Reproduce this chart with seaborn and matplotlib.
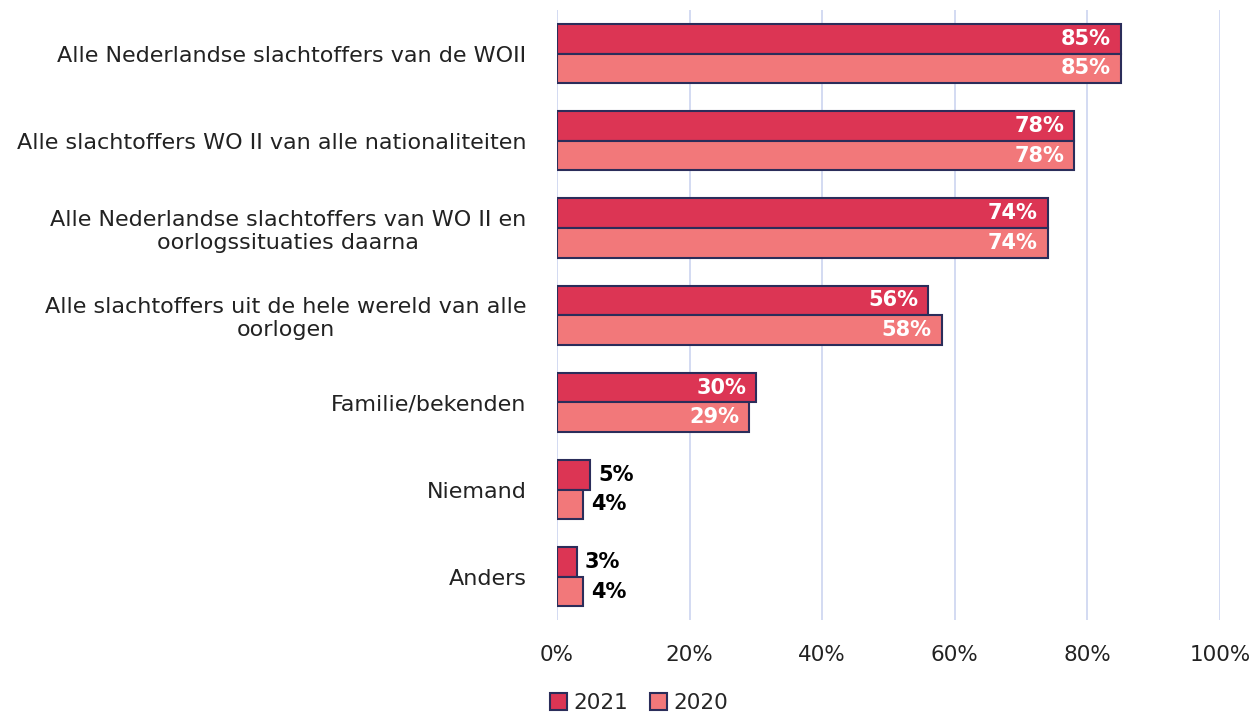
import matplotlib
matplotlib.use("Agg")
import matplotlib.pyplot as plt
import seaborn as sns
import pandas as pd
from matplotlib.ticker import FuncFormatter

categories = [
    "Alle Nederlandse slachtoffers van de WOII",
    "Alle slachtoffers WO II van alle nationaliteiten",
    "Alle Nederlandse slachtoffers van WO II en\noorlogssituaties daarna",
    "Alle slachtoffers uit de hele wereld van alle\noorlogen",
    "Familie/bekenden",
    "Niemand",
    "Anders",
]
values_2021 = [85, 78, 74, 56, 30, 5, 3]
values_2020 = [85, 78, 74, 58, 29, 4, 4]
years = ["2021", "2020"]

df = pd.DataFrame({
    "categorie": categories * 2,
    "jaar": [years[0]] * len(categories) + [years[1]] * len(categories),
    "waarde": values_2021 + values_2020,
})

sns.set_style("white")
plt.rcParams["font.family"] = ["DejaVu Sans"]

palette = {"2021": "#DC3554", "2020": "#F2787A"}
edge = "#2B2D5A"

fig = plt.figure(figsize=(12.53, 7.13), dpi=100)
ax = fig.add_axes([0.4445, 0.130, 0.5292, 0.856])

sns.barplot(data=df, y="categorie", x="waarde", hue="jaar", hue_order=years,
            palette=palette, orient="h", width=0.68, edgecolor=edge,
            linewidth=1.5, saturation=1, ax=ax, legend=True)

ax.set_xlim(0, 100)
ax.set_xticks(range(0, 101, 20))
ax.xaxis.set_major_formatter(FuncFormatter(lambda v, p: f"{v:.0f}%"))
ax.grid(axis="x", color="#D3DAF2", linewidth=1.4)
ax.set_axisbelow(True)
for s in ax.spines.values():
    s.set_visible(False)
ax.set_xlabel("")
ax.set_ylabel("")
ax.tick_params(axis="x", labelsize=15.5, colors="#222222", pad=18, length=0)
ax.tick_params(axis="y", labelsize=16, colors="#222222", pad=22, length=0)
for lab in ax.get_yticklabels():
    lab.set_multialignment("center")

for cont in ax.containers:
    for bar in cont:
        w = bar.get_width()
        yc = bar.get_y() + bar.get_height() / 2
        if w >= 10:
            ax.text(w - 1.5, yc, f"{w:.0f}%", ha="right", va="center",
                    color="white", fontsize=15, fontweight="bold")
        else:
            ax.text(w + 1.2, yc, f"{w:.0f}%", ha="left", va="center",
                    color="black", fontsize=15, fontweight="bold")

handles, labels = ax.get_legend_handles_labels()
ax.get_legend().remove()
fig.legend(handles, labels, loc="center", bbox_to_anchor=(0.51, 0.014), ncol=2,
           frameon=False, fontsize=15.5, handlelength=0.8, handleheight=0.8,
           handletextpad=0.3, columnspacing=1.0, borderaxespad=0, borderpad=0)

fig.savefig("out.png", dpi=100)
